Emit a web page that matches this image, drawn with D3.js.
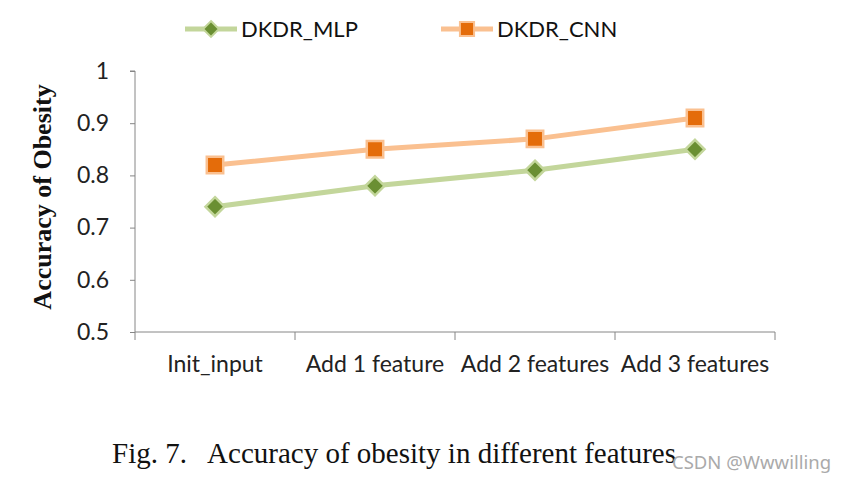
<!DOCTYPE html>
<html><head><meta charset="utf-8">
<script src="https://cdn.jsdelivr.net/npm/d3@7"></script>
<style>body{margin:0;background:#fff}</style>
</head><body>
<svg id="c" width="850" height="483"></svg>
<script>
const categories = ["Init_input", "Add 1 feature", "Add 2 features", "Add 3 features"];
const mlpValues = [0.74, 0.78, 0.81, 0.85];
const cnnValues = [0.82, 0.85, 0.87, 0.91];
const yTicks = [0.5, 0.6, 0.7, 0.8, 0.9, 1];
const seriesNames = ["DKDR_MLP", "DKDR_CNN"];

(function () {
const svg = d3.select("#c");
const pL = 135, pR = 775, pT = 71, pB = 332;
const x = d3.scaleBand().domain(categories).range([pL, pR]);
const y = d3.scaleLinear().domain([0.5, 1]).range([pB, pT]);
const axisColor = "#868686";
const tickFont = "Lato, 'Open Sans', sans-serif";

// Y axis
const ya = svg.append("g").attr("transform", `translate(${pL},0)`)
  .call(d3.axisLeft(y).tickValues(yTicks).tickFormat(d => d === 1 ? "1" : d3.format(".1f")(d)).tickSize(5).tickPadding(21));
ya.select(".domain").attr("stroke", axisColor).attr("d", `M-5,${pT}H0V${pB}`);
ya.selectAll(".tick line").attr("stroke", axisColor);
ya.selectAll(".tick text").attr("font-family", tickFont).attr("font-size", 23).attr("fill", "#222");

// X axis
const xa = svg.append("g").attr("transform", `translate(0,${pB})`)
  .call(d3.axisBottom(x).tickSize(0).tickPadding(24));
xa.select(".domain").attr("stroke", axisColor).attr("d", `M${pL},0H${pR}`);
xa.selectAll(".tick text").attr("font-family", tickFont).attr("font-size", 23).attr("fill", "#222");
const bounds = [pL, ...categories.map(c => x(c) + x.bandwidth())];
xa.selectAll(".bt").data(bounds).join("line").attr("class", "bt")
  .attr("x1", d => d).attr("x2", d => d).attr("y1", 0).attr("y2", 8).attr("stroke", axisColor);

// Y label
svg.append("text").attr("transform", `translate(51,197) rotate(-90)`)
  .attr("text-anchor", "middle").attr("font-family", "'Liberation Serif', serif")
  .attr("font-weight", "bold").attr("font-size", 26).attr("fill", "#111").text("Accuracy of Obesity");

const cx = c => x(c) + x.bandwidth() / 2;
const line = d3.line().x((d, i) => cx(categories[i])).y(d => y(d));

const series = [
  {name: seriesNames[0], values: mlpValues, lineColor: "#c3d69b", fill: "#6a8f32", shape: d3.symbolDiamond2},
  {name: seriesNames[1], values: cnnValues, lineColor: "#fac090", fill: "#e46c0a", shape: d3.symbolSquare}
];

series.forEach(s => {
  svg.append("path").datum(s.values).attr("d", line).attr("fill", "none")
    .attr("stroke", s.lineColor).attr("stroke-width", 5).attr("stroke-linejoin", "round");
});
series.forEach(s => {
  const sym = d3.symbol().type(s.shape).size(s.shape === d3.symbolSquare ? 270 : 230);
  svg.selectAll(null).data(s.values).join("path")
    .attr("d", sym).attr("transform", (d, i) => `translate(${cx(categories[i])},${y(d)})`)
    .attr("fill", s.fill).attr("stroke", s.lineColor).attr("stroke-width", 2.5);
});

// Legend
const legendX = [185, 441];
series.forEach((s, i) => {
  const g = svg.append("g").attr("transform", `translate(${legendX[i]},29)`);
  g.append("line").attr("x1", 0).attr("x2", 52).attr("stroke", s.lineColor).attr("stroke-width", 5);
  const sym = d3.symbol().type(s.shape).size(s.shape === d3.symbolSquare ? 200 : 160);
  g.append("path").attr("d", sym).attr("transform", "translate(26,0)")
    .attr("fill", s.fill).attr("stroke", s.lineColor).attr("stroke-width", 2);
  g.append("text").attr("x", 56).attr("y", 8).attr("font-family", tickFont).attr("font-size", 22)
    .attr("fill", "#111").text(s.name);
});

// Caption
svg.append("text").attr("x", 112).attr("y", 463).attr("font-family", "'Liberation Serif', serif")
  .attr("font-size", 29).attr("fill", "#111").attr("xml:space", "preserve")
  .text("Fig. 7.   Accuracy of obesity in different features");
svg.append("text").attr("x", 672).attr("y", 469).attr("font-family", "'Noto Sans', sans-serif")
  .attr("font-size", 18.5).attr("fill", "#aaa").text("CSDN @Wwwilling");
})();
</script>
</body></html>
